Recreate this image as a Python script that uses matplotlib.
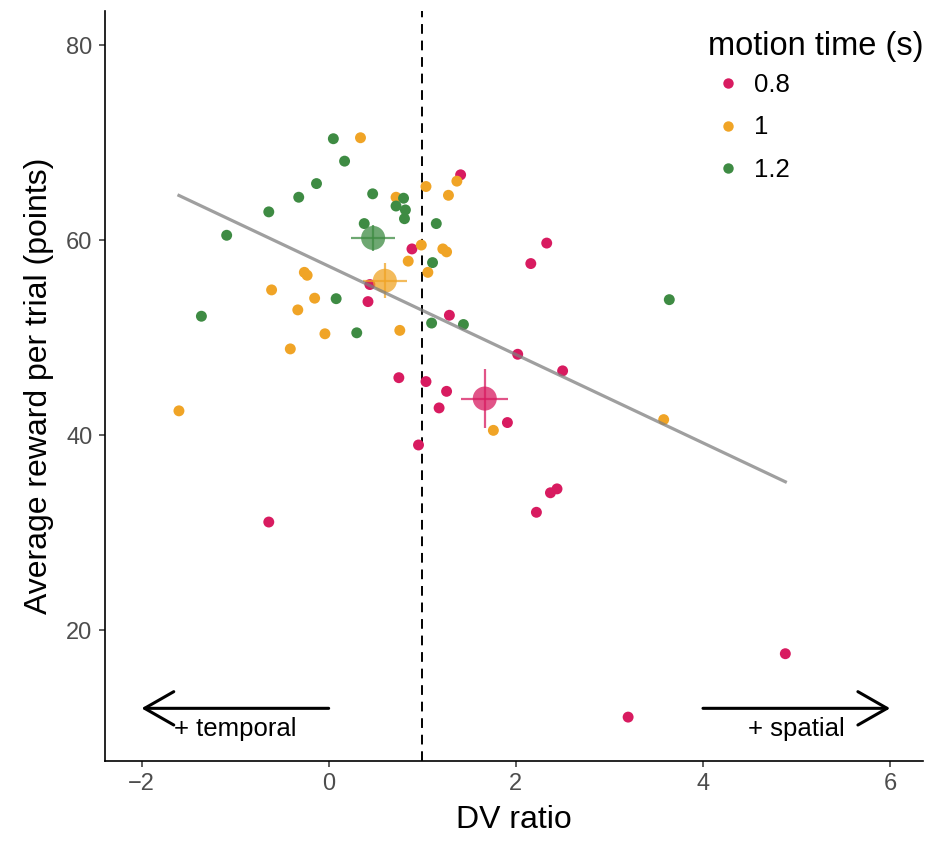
import matplotlib.pyplot as plt
import numpy as np
from matplotlib.lines import Line2D

plt.rcParams['font.family'] = ['Liberation Sans', 'DejaVu Sans']

# per-participant points, one pair of lists per motion time
groups = ['0.8', '1', '1.2']
colors = ['#D81B60', '#F0A426', '#3E8B43']

dv_08 = [1.41, 2.33, 2.16, 0.89, 0.44, 0.42, 1.29, 2.02, 2.50, 0.75, 1.04,
         1.26, 1.18, 1.91, 0.96, 2.37, 2.44, 2.22, -0.64, 4.88, 3.20]
reward_08 = [66.7, 59.7, 57.6, 59.1, 55.45, 53.7, 52.3, 48.3, 46.6, 45.9, 45.5,
             44.5, 42.8, 41.3, 39.0, 34.1, 34.5, 32.1, 31.1, 17.6, 11.1]

dv_10 = [0.34, 1.37, 1.04, 1.28, 0.72, 0.99, 1.22, 1.26, 0.85, 1.06, -0.26,
         -0.23, -0.61, -0.15, -0.33, -0.04, 0.76, -0.41, -1.60, 1.76, 3.58]
reward_10 = [70.5, 66.05, 65.5, 64.6, 64.4, 59.5, 59.1, 58.8, 57.85, 56.7, 56.7,
             56.4, 54.9, 54.05, 52.85, 50.4, 50.75, 48.85, 42.5, 40.5, 41.6]

dv_12 = [0.05, 0.17, -0.13, -0.32, 0.47, -0.64, 0.80, 0.72, 0.82, 0.81,
         0.38, 1.15, -1.09, 1.11, 0.08, -1.36, 0.30, 1.10, 1.44, 3.64]
reward_12 = [70.4, 68.1, 65.8, 64.4, 64.75, 62.9, 64.3, 63.5, 63.1, 62.2,
             61.7, 61.7, 60.5, 57.7, 54.0, 52.2, 50.5, 51.5, 51.35, 53.9]

xs = [dv_08, dv_10, dv_12]
ys = [reward_08, reward_10, reward_12]

fig = plt.figure(figsize=(9.31, 8.42), dpi=100)
ax = fig.add_axes([0.1128, 0.0962, 0.8785, 0.8908])

# individual points
for x, y, c in zip(xs, ys, colors):
    ax.scatter(x, y, s=62, color=c, edgecolors='none', zorder=3)

# group means +/- SE
for x, y, c in zip(xs, ys, colors):
    x = np.array(x)
    y = np.array(y)
    mx, my = x.mean(), y.mean()
    sx = x.std(ddof=1) / np.sqrt(len(x))
    sy = y.std(ddof=1) / np.sqrt(len(y))
    ax.errorbar(mx, my, xerr=sx, yerr=sy, fmt='none', ecolor=c,
                elinewidth=1.6, alpha=0.75, zorder=4)
    ax.scatter(mx, my, s=300, color=c, alpha=0.75, edgecolors='none',
               zorder=4)

# linear fit over all points
all_x = np.concatenate([np.array(v) for v in xs])
all_y = np.concatenate([np.array(v) for v in ys])
slope, intercept = np.polyfit(all_x, all_y, 1)
fx = np.array([all_x.min(), all_x.max()])
ax.plot(fx, intercept + slope * fx, color='#7f7f7f', lw=2.3, alpha=0.75,
        zorder=5)

ax.axvline(1, color='black', lw=1.4, ls=(0, (5, 3.5)), zorder=2)

# direction arrows
arrow_kw = dict(arrowstyle='->, head_length=2.1, head_width=1.2',
                color='black', lw=2.2, shrinkA=0, shrinkB=0)
ax.annotate('', xy=(-2, 12), xytext=(0, 12), arrowprops=arrow_kw)
ax.annotate('', xy=(6, 12), xytext=(4, 12), arrowprops=arrow_kw)
ax.text(-1, 9.9, '+ temporal', ha='center', va='center', fontsize=18.5)
ax.text(5, 9.9, '+ spatial', ha='center', va='center', fontsize=18.5)

ax.set_xlim(-2.39, 6.35)
ax.set_ylim(6.6, 83.5)
ax.set_xticks([-2, 0, 2, 4, 6])
ax.set_yticks([20, 40, 60, 80])
ax.set_xticklabels(['\u22122', '0', '2', '4', '6'])
ax.tick_params(labelsize=17, labelcolor='#4D4D4D', color='#333333',
               length=4, width=1.1, pad=5)
for side in ['top', 'right']:
    ax.spines[side].set_visible(False)
for side in ['left', 'bottom']:
    ax.spines[side].set_linewidth(1.2)

ax.set_xlabel('DV ratio', fontsize=23, labelpad=7)
ax.set_ylabel('Average reward per trial (points)', fontsize=23, labelpad=9)

# legend: title as its own text, entries below it
fig.text(0.7605, 1 - 46 / 842, 'motion time (s)', ha='left', va='center',
         fontsize=23.5)
handles = [Line2D([], [], ls='none', marker='o', markersize=7.5,
                  markerfacecolor=c, markeredgecolor='none') for c in colors]
fig.legend(handles, groups, loc='upper left',
           bbox_to_anchor=(0.7605, 1 - 73 / 842), frameon=False,
           fontsize=18.5, handlelength=1.55, handletextpad=0.25,
           labelspacing=0.72, borderaxespad=0, borderpad=0)

fig.savefig('out.png', dpi=100)
